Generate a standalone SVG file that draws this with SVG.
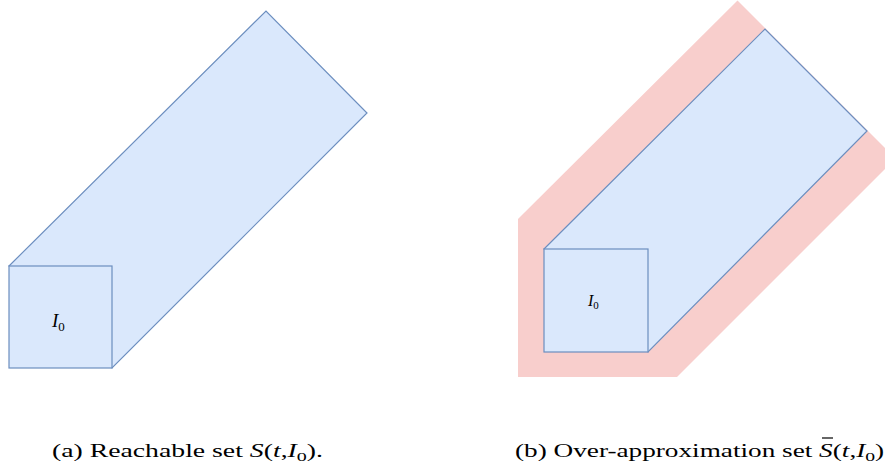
<svg xmlns="http://www.w3.org/2000/svg" width="885" height="469" viewBox="0 0 885 469">
  <style>
    .blue { fill: #dae8fc; stroke: #6c8ebf; stroke-width: 1.2; stroke-linejoin: miter; }
    .pink { fill: #f8cecc; stroke: none; }
    .lbl { font-family: "Liberation Serif", "DejaVu Serif", serif; fill: #000; }
    .it { font-style: italic; }
    .cap { font-family: "Liberation Serif", "DejaVu Serif", serif; font-size: 18px; fill: #000; }
  </style>
  <rect width="885" height="469" fill="#ffffff"/>

  <g id="left-figure">
    <g id="left-sweep">
      <polygon class="blue" points="9,266 266,11 367,113 112,368"/>
    </g>
    <g id="left-I0">
      <rect class="blue" x="9" y="266" width="103" height="102"/>
      <text class="lbl" x="52" y="327" font-size="19"><tspan class="it">I</tspan><tspan font-size="13" dy="4">0</tspan></text>
    </g>
  </g>

  <g id="right-figure">
    <g id="over-approx">
      <polygon class="pink" points="518,219 737.5,0.5 895.5,158.5 677,377 518,377"/>
    </g>
    <g id="right-sweep">
      <polygon class="blue" points="544,249 765,29 867,131 648,352"/>
    </g>
    <g id="right-I0">
      <rect class="blue" x="544" y="249" width="104" height="103"/>
      <text class="lbl" x="588" y="306" font-size="16"><tspan class="it">I</tspan><tspan font-size="11" dy="3">0</tspan></text>
    </g>
  </g>

  <g id="captions">
    <text class="cap" x="52" y="457" textLength="271" lengthAdjust="spacingAndGlyphs">(a) Reachable set <tspan class="it">S</tspan>(<tspan class="it">t</tspan>,<tspan class="it">I</tspan><tspan font-size="13" dy="4">0</tspan><tspan dy="-4">).</tspan></text>
    <text class="cap" x="515" y="457" textLength="376" lengthAdjust="spacingAndGlyphs">(b) Over-approximation set <tspan class="it">S</tspan>(<tspan class="it">t</tspan>,<tspan class="it">I</tspan><tspan font-size="13" dy="4">0</tspan><tspan dy="-4">).</tspan></text>
    <line x1="822" y1="438" x2="833" y2="438" stroke="#000" stroke-width="1.2"/>
  </g>
</svg>
